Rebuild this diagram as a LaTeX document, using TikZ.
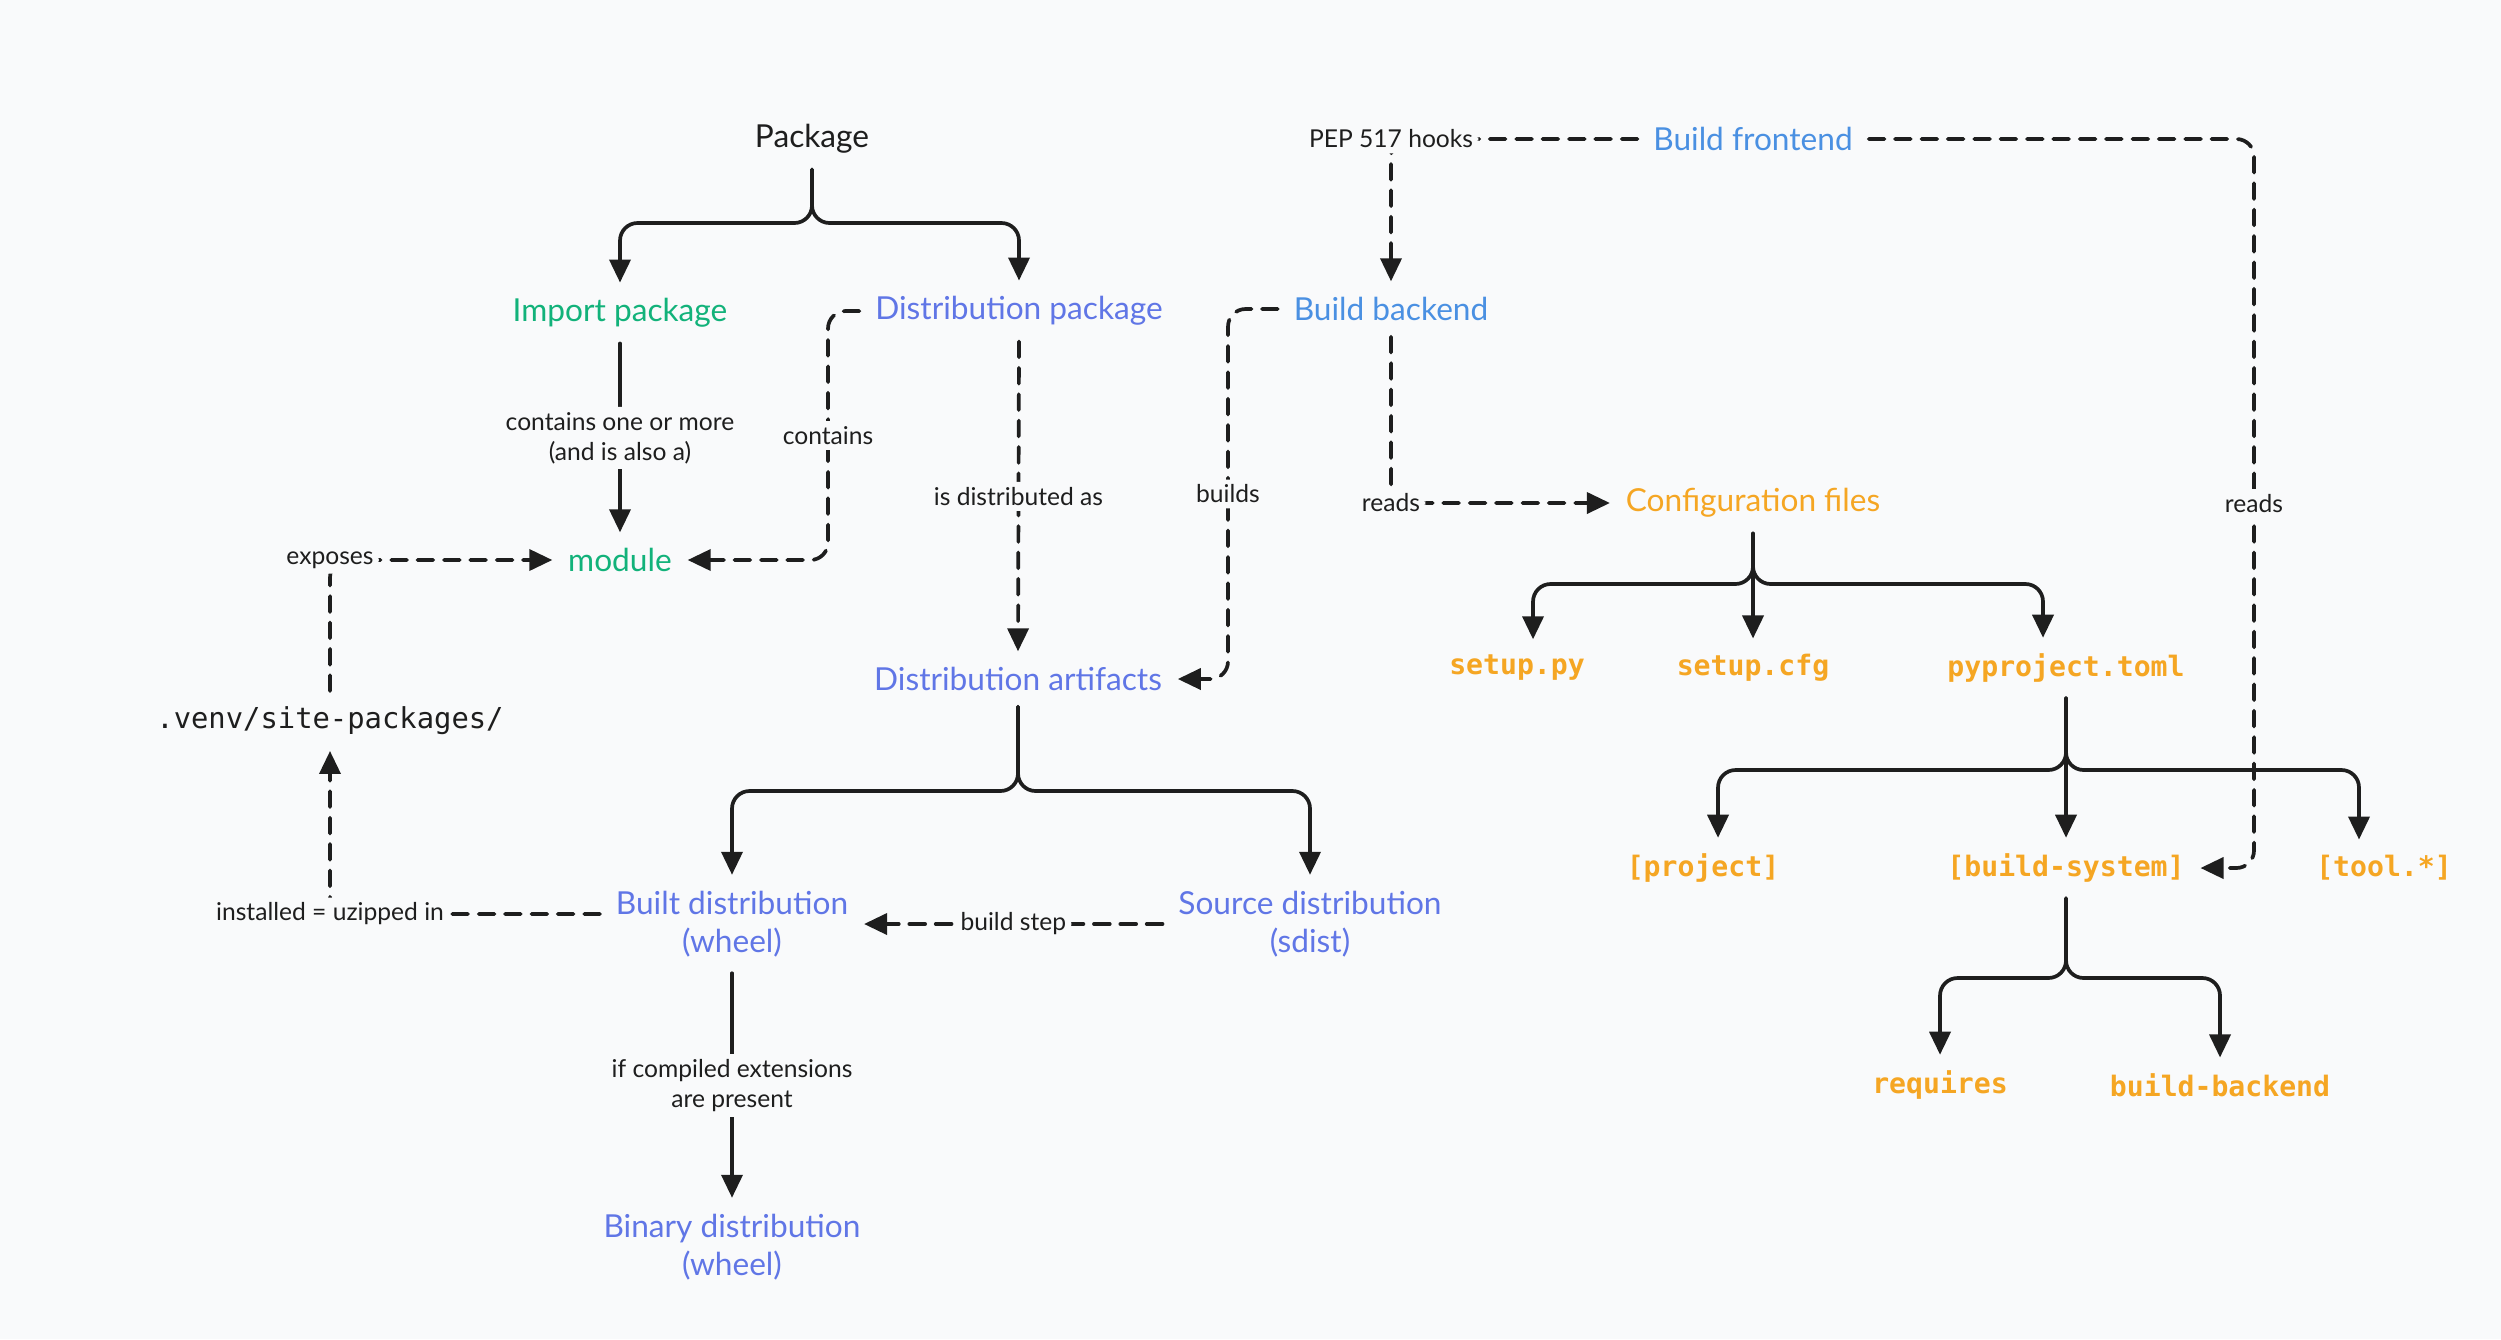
\documentclass[tikz,border=0pt]{standalone}
\usepackage{fontspec}
\setmainfont{Lato}
\setmonofont{DejaVu Sans Mono}
\usetikzlibrary{arrows.meta}
\definecolor{bgcol}{RGB}{249,250,251}
\definecolor{ink}{RGB}{30,30,30}
\definecolor{impgreen}{RGB}{18,178,122}
\definecolor{distblue}{RGB}{96,118,230}
\definecolor{buildblue}{RGB}{74,144,226}
\definecolor{cfgorange}{RGB}{245,166,35}
\tikzstyle{every node}=[font=\fontsize{9}{11}\selectfont]
\tikzstyle{every path}=[line width=1.05pt,line cap=round,line join=round]
\tikzstyle{term}=[inner sep=4pt,align=center]
\tikzstyle{conf}=[term,font=\fontsize{8}{10}\selectfont\ttfamily\bfseries,text=cfgorange]
\tikzstyle{lbl}=[fill=bgcol,inner sep=1.5pt,align=center,text=ink,font=\fontsize{7}{8.5}\selectfont]
\tikzstyle{arr}=[draw=ink,-{Triangle[length=0.23cm,width=0.21cm]},rounded corners=5pt]
\tikzstyle{dashedarr}=[arr,dash pattern=on 4.5pt off 3pt]

\begin{document}
\begin{tikzpicture}[x=0.01cm,y=-0.01cm]
	\fill[bgcol] (0,0) rectangle (2501,1339);
	\useasboundingbox (0,0) rectangle (2501,1339);
	%Packages and artifacts
	\node[term,text=ink] (pkg) at (812,139) {Package};
	\node[term,text=impgreen] (imp) at (620,313) {Import package};
	\node[term,text=distblue] (dpkg) at (1019,311) {Distribution package};
	\node[term,text=impgreen] (mod) at (620,560) {module};
	\node[term,text=ink,font=\fontsize{8.2}{10}\selectfont\ttfamily] (venv) at (330,721) {.venv/site-packages/};
	\node[term,text=distblue] (dart) at (1018,679) {Distribution artifacts};
	\node[term,text=distblue] (bdist) at (732,924) {Built distribution\\(wheel)};
	\node[term,text=distblue] (sdist) at (1310,924) {Source distribution\\(sdist)};
	\node[term,text=distblue] (bin) at (732,1247) {Binary distribution\\(wheel)};
	%Build tools
	\node[term,text=buildblue] (bfe) at (1753,139) {Build frontend};
	\node[term,text=buildblue] (bbk) at (1391,309) {Build backend};
	\node[term,text=cfgorange] (cfg) at (1753,503) {Configuration files};
	%Config files
	\node[conf] (setuppy) at (1517,668) {setup.py};
	\node[conf] (setupcfg) at (1753,668) {setup.cfg};
	\node[conf] (pyproj) at (2066,668) {pyproject.toml};
	\node[conf] (proj) at (1703,868) {[project]};
	\node[conf] (bsys) at (2066,868) {[build-system]};
	\node[conf] (tool) at (2384,868) {[tool.*]};
	\node[conf] (req) at (1940,1085) {requires};
	\node[conf] (bbe) at (2220,1085) {build-backend};
	% Braces
	\coordinate (jpkg) at (812,223); %% jpkg is where the Package brace splits
	\draw[arr] (pkg.south) -- (jpkg) -| (imp.north);
	\draw[arr] (pkg.south) -- (jpkg) -| (dpkg.north);
	\coordinate (jdart) at (1018,791); %% jdart is where the artifacts brace splits
	\draw[arr] (dart.south) -- (jdart) -| (bdist.north);
	\draw[arr] (dart.south) -- (jdart) -| (sdist.north);
	\coordinate (jcfg) at (1753,584);
	\draw[arr] (cfg.south) -- (jcfg) -| ([xshift=1.6mm]setuppy.north);
	\draw[arr] (cfg.south) -- (setupcfg.north);
	\draw[arr] (cfg.south) -- (jcfg) -| ([xshift=-2.3mm]pyproj.north);
	\coordinate (jpy) at (2066,770);
	\draw[arr] (pyproj.south) -- (jpy) -| ([xshift=1.5mm]proj.north);
	\draw[arr] (pyproj.south) -- (bsys.north);
	\draw[arr] (pyproj.south) -- (jpy) -| ([xshift=-2.5mm]tool.north);
	\coordinate (jbsys) at (2066,978);
	\draw[arr] (bsys.south) -- (jbsys) -| (req.north);
	\draw[arr] (bsys.south) -- (jbsys) -| (bbe.north);
	% Solid links
	\draw[arr] (imp.south) -- node[lbl] (lone) {contains one or more\\(and is also a)} (mod.north);
	\draw[arr] (bdist.south) -- node[lbl] (lcomp) {if compiled extensions\\are present} (bin.north);
	% Dashed links
	\coordinate (ccont) at (828,560); %% corner of the contains line
	\draw[dashedarr] (dpkg.west) -| node[lbl,pos=0.75] (lcont) {contains} (ccont) -- (mod.east);
	\draw[dashedarr] (dpkg.south) -- node[lbl] (ldistas) {is distributed as} (dart.north);
	\draw[dashedarr] (venv.north) |- node[lbl,pos=0.5] (lexp) {exposes} (mod.west);
	\draw[dashedarr] ([yshift=1mm]bdist.west) -| node[lbl,pos=0.5] (linst) {installed = uzipped in} (venv.south);
	\draw[dashedarr] (sdist.west) -- node[lbl] (lstep) {build step} (bdist.east);
	\coordinate (cbuilds) at (1228,679); %% corner of the builds line
	\draw[dashedarr] (bbk.west) -| node[lbl,pos=0.75] (lbuilds) {builds} (cbuilds) -- (dart.east);
	\draw[dashedarr] (bfe.west) -| node[lbl,pos=0.5] (lhooks) {PEP 517 hooks} (bbk.north);
	\draw[dashedarr] (bbk.south) |- node[lbl,pos=0.5] (lreads) {reads} (cfg.west);
	\coordinate (creads) at (2254,868); %% corner of the right reads line
	\draw[dashedarr] (bfe.east) -| node[lbl,pos=0.75] (lreads2) {reads} (creads) -- (bsys.east);
\end{tikzpicture}
\end{document}
